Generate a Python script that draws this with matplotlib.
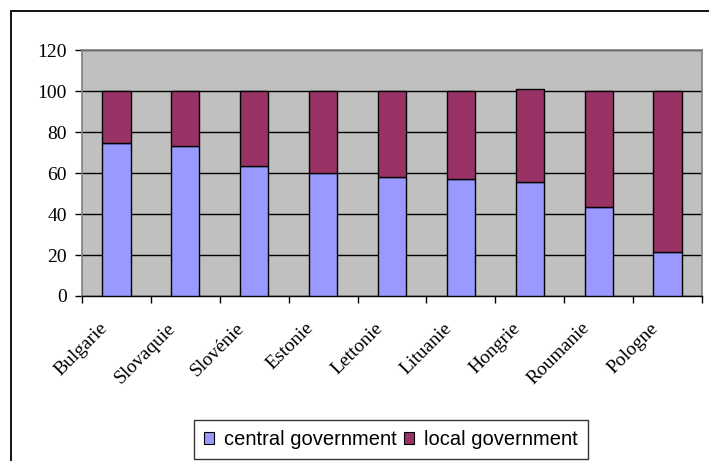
import numpy as np
import matplotlib
matplotlib.use("Agg")
import matplotlib.pyplot as plt
from matplotlib.patches import Rectangle, Patch
from matplotlib.transforms import ScaledTranslation

# share of public spending by level of government (%)
countries = ["Bulgarie", "Slovaquie", "Slovénie", "Estonie", "Lettonie",
             "Lituanie", "Hongrie", "Roumanie", "Pologne"]
central = [74.5, 73, 63.5, 60, 58, 57, 55.5, 43.5, 21.5]
local = [25.5, 27, 36.5, 40, 42, 43, 45.5, 56.5, 78.5]
series_names = ["central government", "local government"]
yticks = [0, 20, 40, 60, 80, 100, 120]

blue = "#9999FF"
plum = "#993366"
serif = "Liberation Serif"
sans = "Liberation Sans"

fig = plt.figure(figsize=(7.09, 4.61), dpi=100)
ax = fig.add_axes([82 / 709, 165 / 461, 620 / 709, 246 / 461])

# outer frame of the chart
fig.patches.append(Rectangle((11 / 709, -0.1), 1.2, 1 - 11 / 461 + 0.1,
                             transform=fig.transFigure, fill=False,
                             edgecolor="black", linewidth=1.3))

x = np.arange(len(countries))
ax.bar(x, central, width=0.41, color=blue, edgecolor="black", linewidth=1, zorder=3)
ax.bar(x, local, width=0.41, bottom=central, color=plum, edgecolor="black",
       linewidth=1, zorder=3)

ax.set_facecolor("#C0C0C0")
ax.set_xlim(-0.5, len(countries) - 0.5)
ax.set_ylim(0, 120)
ax.set_yticks(yticks)
ax.set_yticklabels([str(v) for v in yticks], fontfamily=serif, fontsize=14)
ax.tick_params(axis="y", direction="out", length=5, width=1, pad=6, colors="black")
ax.yaxis.grid(True, color="black", linewidth=1)
ax.set_axisbelow(True)

# tick marks between categories, labels at category centres
ax.set_xticks(np.arange(len(countries) + 1) - 0.5)
ax.set_xticklabels([])
ax.tick_params(axis="x", which="major", direction="out", length=5, width=1)
ax.set_xticks(x, minor=True)
ax.set_xticklabels(countries, minor=True, fontfamily=serif, fontsize=14,
                   rotation=45, ha="right", va="top")
ax.tick_params(axis="x", which="minor", length=0, pad=17)
shift = ScaledTranslation(-6 / 100, 0, fig.dpi_scale_trans)
for lab in ax.get_xticklabels(minor=True):
    lab.set_transform(lab.get_transform() + shift)

for side in ("top", "right", "left"):
    ax.spines[side].set_color("#808080")
    ax.spines[side].set_linewidth(1.2)
ax.spines["bottom"].set_color("black")
ax.spines["bottom"].set_linewidth(1)

handles = [Patch(facecolor=blue, edgecolor="black", linewidth=0.8),
           Patch(facecolor=plum, edgecolor="black", linewidth=0.8)]
leg = fig.legend(handles, series_names, loc="upper left",
                 bbox_to_anchor=(194 / 709, 1 - 420 / 461), ncol=2,
                 prop={"family": sans, "size": 14.5}, frameon=True,
                 fancybox=False, handlelength=0.5, handleheight=0.5,
                 handletextpad=0.5, columnspacing=0.35, borderpad=0.5,
                 borderaxespad=0)
leg.get_frame().set_edgecolor("black")
leg.get_frame().set_linewidth(1)

fig.savefig("out.png", dpi=100)
